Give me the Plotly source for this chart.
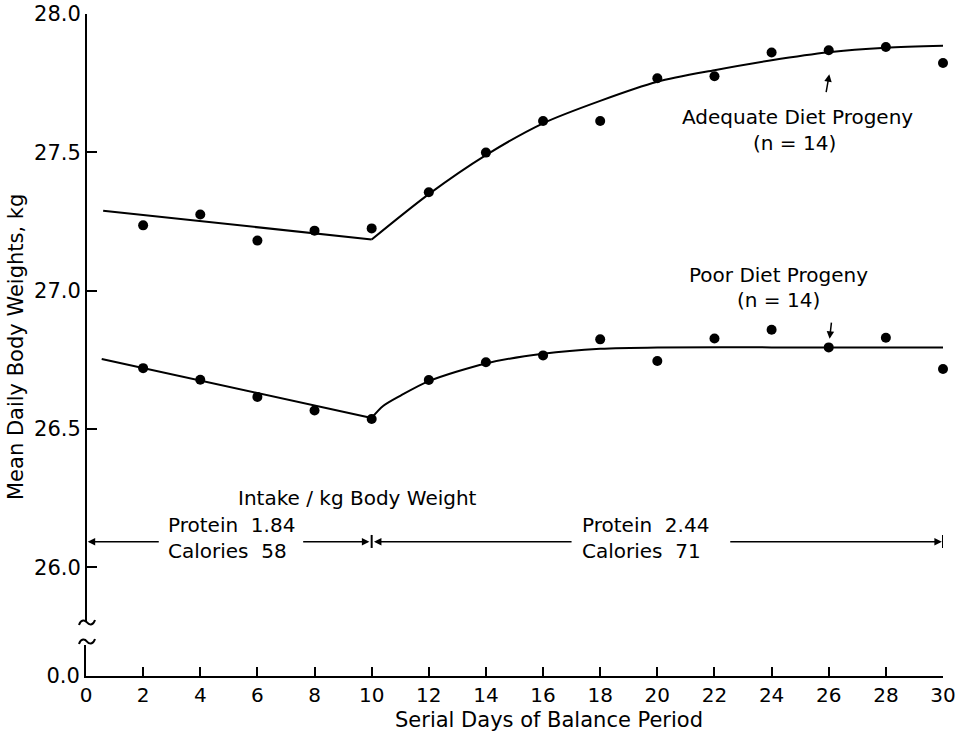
import plotly.graph_objects as go

# ---------------- data ----------------
days = [2, 4, 6, 8, 10, 12, 14, 16, 18, 20, 22, 24, 26, 28, 30]
adequate_weights = [27.236, 27.275, 27.181, 27.217, 27.225, 27.356, 27.499, 27.613,
                    27.613, 27.768, 27.775, 27.861, 27.869, 27.881, 27.823]
poor_weights = [26.720, 26.678, 26.616, 26.567, 26.536, 26.677, 26.741, 26.766,
                26.824, 26.746, 26.827, 26.859, 26.795, 26.830, 26.717]

adequate_fit_pre_x = [0.6, 10]
adequate_fit_pre_y = [27.289, 27.185]
adequate_fit_post_x = [10, 12, 14, 16, 18, 20, 22, 24, 26, 28, 30]
adequate_fit_post_y = [27.185, 27.349, 27.490, 27.605, 27.686, 27.755, 27.797,
                       27.833, 27.862, 27.878, 27.885]

poor_fit_pre_x = [0.55, 10]
poor_fit_pre_y = [26.753, 26.540]
poor_fit_post_x = [10, 10.4, 11, 12, 14, 16, 18, 20, 24, 30]
poor_fit_post_y = [26.540, 26.583, 26.620, 26.673, 26.737, 26.772, 26.790, 26.795,
                   26.795, 26.795]

x_ticks = list(range(0, 31, 2))
y_ticks_upper = [26.0, 26.5, 27.0, 27.5, 28.0]
y_ticks_lower = [0.0]

# intake annotation values
period1_start, period1_end = 0, 10
period2_start, period2_end = 10, 30
period1_text = "Protein  1.84<br>Calories  58"
period2_text = "Protein  2.44<br>Calories  71"

# ---------------- layout geometry ----------------
W, H = 966, 732
L, R, T, B = 86, 23, 14, 56
PW, PH = W - L - R, H - T - B
FONT = "DejaVu Sans"
BLACK = "#000000"


def px(xp):
    return (xp - L) / PW


def py(yp):
    return (H - B - yp) / PH


upper_dom = [py(621), 1.0]
lower_dom = [0.0, py(645)]

fig = go.Figure()

line_style = dict(color=BLACK, width=2)
fig.add_trace(go.Scatter(x=adequate_fit_pre_x, y=adequate_fit_pre_y, mode="lines",
                         line=line_style, xaxis="x2", yaxis="y", hoverinfo="skip"))
fig.add_trace(go.Scatter(x=adequate_fit_post_x, y=adequate_fit_post_y, mode="lines",
                         line=dict(color=BLACK, width=2, shape="spline", smoothing=0.8),
                         xaxis="x2", yaxis="y", hoverinfo="skip"))
fig.add_trace(go.Scatter(x=poor_fit_pre_x, y=poor_fit_pre_y, mode="lines",
                         line=line_style, xaxis="x2", yaxis="y", hoverinfo="skip"))
fig.add_trace(go.Scatter(x=poor_fit_post_x, y=poor_fit_post_y, mode="lines",
                         line=dict(color=BLACK, width=2, shape="spline", smoothing=0.8),
                         xaxis="x2", yaxis="y", hoverinfo="skip"))
fig.add_trace(go.Scatter(x=days, y=adequate_weights, mode="markers",
                         marker=dict(color=BLACK, size=10), cliponaxis=False,
                         xaxis="x2", yaxis="y", name="Adequate Diet Progeny"))
fig.add_trace(go.Scatter(x=days, y=poor_weights, mode="markers",
                         marker=dict(color=BLACK, size=10), cliponaxis=False,
                         xaxis="x2", yaxis="y", name="Poor Diet Progeny"))
# empty trace so the bottom (broken) axis pair x / y2 is drawn
fig.add_trace(go.Scatter(x=[None], y=[None], mode="markers", xaxis="x", yaxis="y2",
                         hoverinfo="skip", showlegend=False))

ann = []


def label(x, y, text, xanchor="center", size=20, align="center"):
    ann.append(dict(x=x, y=y, xref="x2", yref="y", text=text, showarrow=False,
                    xanchor=xanchor, yanchor="middle", align=align,
                    font=dict(family=FONT, size=size, color=BLACK)))


def arrow(x_head, y_head, x_tail, y_tail, size=1.0, width=1.5):
    ann.append(dict(x=x_head, y=y_head, ax=x_tail, ay=y_tail, xref="x2", yref="y",
                    axref="x2", ayref="y", text="", showarrow=True, arrowhead=2,
                    arrowsize=size, arrowwidth=width, arrowcolor=BLACK, standoff=0,
                    startstandoff=0))


# series labels
label(24.92, 27.629, "Adequate Diet Progeny")
label(24.80, 27.532, "(n = 14)")
label(24.23, 27.057, "Poor Diet Progeny")
label(24.25, 26.966, "(n = 14)")
arrow(26.02, 27.782, 25.90, 27.712)
arrow(26.03, 26.826, 26.10, 26.890)

# intake annotation
arrow_y = 26.0925
label(9.51, 26.249, "Intake / kg Body Weight")
label(2.80, 26.105, period1_text, xanchor="left", align="left")
label(17.30, 26.105, period2_text, xanchor="left", align="left")
arrow(period1_start + 0.06, arrow_y, 2.60, arrow_y)
arrow(period1_end - 0.08, arrow_y, 7.55, arrow_y)
arrow(period2_start + 0.08, arrow_y, 17.05, arrow_y)
arrow(period2_end - 0.04, arrow_y, 22.50, arrow_y)

# axis titles
ann.append(dict(x=px(549), y=py(720), xref="paper", yref="paper",
                text="Serial Days of Balance Period", showarrow=False,
                xanchor="center", yanchor="middle",
                font=dict(family=FONT, size=21, color=BLACK)))
ann.append(dict(x=px(16), y=py(347), xref="paper", yref="paper",
                text="Mean Daily Body Weights, kg", showarrow=False, textangle=-90,
                xanchor="center", yanchor="middle",
                font=dict(family=FONT, size=21, color=BLACK)))

shapes = []
for xv in (period1_end, period2_end):
    shapes.append(dict(type="line", xref="x2", yref="y", x0=xv, x1=xv,
                       y0=26.07, y1=26.117, line=dict(color=BLACK, width=2)))


def tilde(yc):
    pts = [(79, yc + 2), (81, yc - 4), (85, yc - 3), (87, yc - 0.5),
           (89, yc + 2), (93, yc + 3), (95, yc - 3)]
    p = [(px(a), py(b)) for a, b in pts]
    return ("M {:.5f},{:.5f} C {:.5f},{:.5f} {:.5f},{:.5f} {:.5f},{:.5f} "
            "C {:.5f},{:.5f} {:.5f},{:.5f} {:.5f},{:.5f}").format(
        *[c for pt in p for c in pt])


for yc in (623, 642):
    shapes.append(dict(type="path", xref="paper", yref="paper", path=tilde(yc),
                       line=dict(color=BLACK, width=2)))

axis_line = dict(showline=True, linecolor=BLACK, linewidth=2, showgrid=False,
                 zeroline=False, tickcolor=BLACK, tickwidth=2)

fig.update_layout(
    width=W, height=H,
    margin=dict(l=L, r=R, t=T, b=B, pad=0),
    template="none",
    paper_bgcolor="white", plot_bgcolor="white",
    showlegend=False,
    font=dict(family=FONT, color=BLACK),
    xaxis=dict(domain=[0, 1], anchor="y2", range=[0, 30], tickvals=x_ticks,
               ticktext=[str(v) for v in x_ticks], ticks="inside", ticklen=9,
               tickfont=dict(family=FONT, size=20, color=BLACK), **axis_line),
    xaxis2=dict(domain=[0, 1], anchor="y", matches="x", range=[0, 30], visible=False),
    yaxis=dict(domain=upper_dom, anchor="free", position=0, range=[25.806, 28.0],
               tickvals=y_ticks_upper, tickformat=".1f", ticks="inside", ticklen=10,
               tickfont=dict(family=FONT, size=21, color=BLACK), **axis_line),
    yaxis2=dict(domain=lower_dom, anchor="x", range=[0, 0.112],
                tickvals=y_ticks_lower, tickformat=".1f", ticks="",
                tickfont=dict(family=FONT, size=21, color=BLACK), **axis_line),
    annotations=ann,
    shapes=shapes,
)

fig.write_html("out.html")
